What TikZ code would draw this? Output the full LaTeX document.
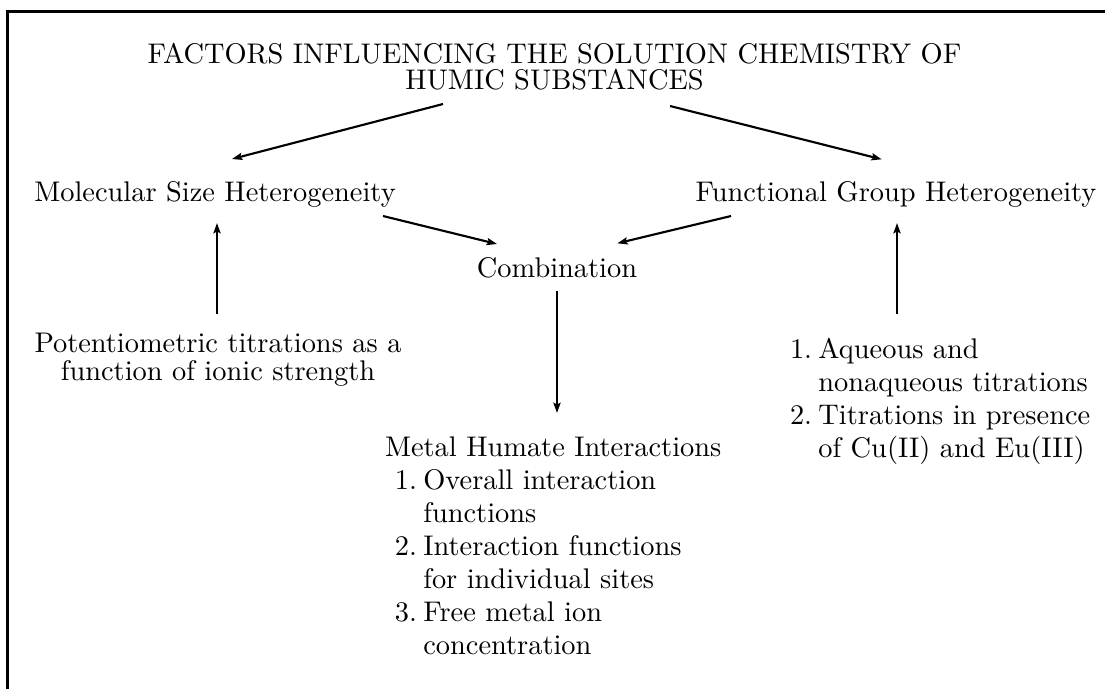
\documentclass[tikz,border=0pt]{standalone}
\usetikzlibrary{arrows.meta}
\begin{document}
\begin{tikzpicture}[x=0.3521pt,y=-0.3521pt,
  lbl/.style={inner sep=0pt, outer sep=0pt, font=\fontsize{10}{11.6}\selectfont},
  conn/.style={line width=0.75pt, -{Stealth[length=3.6pt,width=2.5pt,inset=0.6pt]}},
  frame/.style={line width=1.06pt}]
\useasboundingbox (0,0) rectangle (1105,688);
\draw[frame] (7.5,700) -- (7.5,11.3) -- (1120,11.3);
% nodes (base of a multi-line node = baseline of its last line)
\node[lbl, align=center, anchor=base, font=\fontsize{10}{9.15}\selectfont] (title) at (554.5,89)
  {FACTORS INFLUENCING THE SOLUTION CHEMISTRY OF\\HUMIC SUBSTANCES};
\node[lbl, anchor=base] (mol) at (215,201) {Molecular Size Heterogeneity};
\node[lbl, anchor=base] (fun) at (896,201) {Functional Group Heterogeneity};
\node[lbl, anchor=base] (comb) at (557,277) {Combination};
\node[lbl, align=center, anchor=base, font=\fontsize{10}{9.86}\selectfont] (pot) at (218,380)
  {Potentiometric titrations as a\\function of ionic strength};
\node[lbl, align=left, anchor=base west] (aq) at (790,457)
  {\makebox[10pt][l]{1.}Aqueous and\\
   \hspace*{10pt}nonaqueous titrations\\
   \makebox[10pt][l]{2.}Titrations in presence\\
   \hspace*{10pt}of Cu(II) and Eu(III)};
\node[lbl, align=left, anchor=base west] (metal) at (385,654)
  {Metal Humate Interactions\\
   \hspace*{3.5pt}\makebox[10pt][l]{1.}Overall interaction\\
   \hspace*{13.5pt}functions\\
   \hspace*{3.5pt}\makebox[10pt][l]{2.}Interaction functions\\
   \hspace*{13.5pt}for individual sites\\
   \hspace*{3.5pt}\makebox[10pt][l]{3.}Free metal ion\\
   \hspace*{13.5pt}concentration};
% connectors
\draw[conn] ([shift={(-111.5,15)}]title.base) -- ([shift={(17,-42)}]mol.base);
\draw[conn] ([shift={(115.5,17)}]title.base) -- ([shift={(-14.3,-41.7)}]fun.base);
\draw[conn] ([shift={(168,15)}]mol.base) -- ([shift={(-60,-33)}]comb.base);
\draw[conn] ([shift={(-165,15)}]fun.base) -- ([shift={(60.3,-33.7)}]comb.base);
\draw[conn] ([shift={(0,14)}]comb.base) -- ([shift={(172,-241)}]metal.base west);
\draw[conn] ([shift={(-1,-66)}]pot.base) -- ([shift={(2,22)}]mol.base);
\draw[conn] ([shift={(107,-143)}]aq.base west) -- ([shift={(1,22)}]fun.base);
\end{tikzpicture}
\end{document}
